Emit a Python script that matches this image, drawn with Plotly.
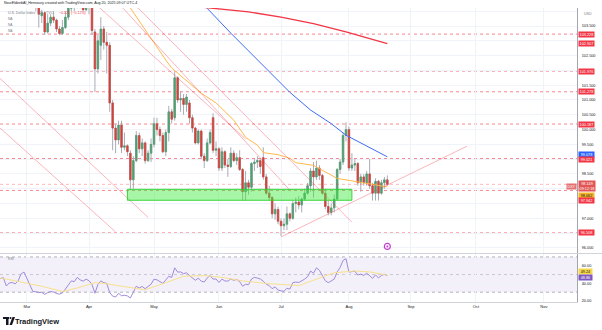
import pandas as pd
import plotly.graph_objects as go

# ---------------- data ----------------
dates = pd.bdate_range("2025-02-18", "2025-08-20")

opens = [106.8,107.1,107.2,106.4,106.6,106.6,106.3,106.4,107.2,
         107.5,106.7,105.7,104.3,104.15,103.85,103.95,103.3,103.6,103.8,103.7,103.4,103.25,103.45,103.8,104.1,104.3,104.2,104.6,104.3,104.05,
         104.2,104.2,103.3,102.05,102.85,103.4,102.95,102.85,100.9,100.05,99.65,100.15,99.4,99.45,99.2,98.3,98.95,99.8,99.35,99.55,98.95,99.2,
         99.5,100.2,100.0,99.8,99.25,99.9,100.6,100.4,101.75,101.0,101.05,100.85,100.9,100.4,100.05,99.55,99.95,99.1,98.95,99.55,100.4,99.3,
         99.35,98.7,99.25,98.8,98.75,99.2,98.95,99.05,98.65,97.9,98.2,98.05,98.85,98.9,98.95,99.05,98.4,97.85,97.7,97.15,97.3,
         96.9,96.75,96.8,97.15,97.0,97.5,97.55,97.45,97.65,97.85,98.1,98.6,98.4,98.7,98.45,97.85,97.4,97.2,97.35,97.65,98.65,98.9,99.8,
         100.0,98.7,98.8,98.85,98.2,98.4,98.2,98.5,98.1,97.85,98.25,97.85,98.2,98.3]
highs = [107.2,107.3,107.3,106.7,106.8,106.7,106.6,107.3,107.6,
         107.6,106.8,105.8,104.5,104.3,104.05,104.0,103.9,103.9,104.0,103.75,103.5,103.7,104.0,104.2,104.4,104.4,104.7,104.7,104.4,104.4,
         104.4,104.3,103.4,103.2,103.8,103.5,103.3,102.95,101.0,100.2,100.3,100.3,99.9,99.5,99.3,99.1,99.95,99.9,99.7,99.6,99.3,99.7,
         100.4,100.4,100.1,99.9,100.0,100.8,100.7,101.95,101.8,101.3,101.2,101.2,101.0,100.5,100.1,100.0,100.0,99.2,99.7,100.0,100.55,99.6,
         99.4,99.4,99.3,99.0,99.4,99.3,99.2,99.3,98.7,98.6,98.3,98.9,99.0,99.1,99.0,99.4,98.5,98.1,97.75,97.5,97.4,
         97.0,97.0,97.4,97.2,97.6,97.7,97.75,97.7,98.0,98.2,98.7,98.9,98.95,98.8,98.5,98.0,97.6,97.5,97.8,98.7,99.0,99.9,100.25,
         100.1,99.2,99.0,98.9,98.5,98.5,98.6,99.0,98.2,98.35,98.3,98.3,98.4,98.45]
lows = [106.7,106.9,106.4,106.1,106.3,106.1,106.1,106.3,107.1,
        106.6,105.6,104.2,104.0,103.45,103.6,103.2,103.25,103.5,103.6,103.3,103.2,103.2,103.4,103.7,104.0,104.0,104.1,104.1,104.0,104.0,
        103.9,103.2,101.27,101.9,102.35,102.7,101.9,100.6,99.3,99.2,99.5,99.2,99.3,99.1,97.95,98.0,98.9,99.2,99.1,98.85,98.9,98.9,
        99.4,99.8,99.6,99.2,99.1,99.6,100.2,100.3,100.9,100.6,100.5,100.6,100.2,99.9,99.5,99.5,99.0,98.7,98.9,99.5,99.2,99.1,
        98.6,98.6,98.7,98.4,98.7,98.9,98.8,98.6,97.6,97.6,97.8,97.9,98.6,98.7,98.5,98.3,97.8,97.6,97.0,96.95,96.8,
        96.4,96.6,96.6,96.9,96.95,97.2,97.3,97.2,97.6,97.8,97.9,97.7,98.3,98.3,97.8,97.3,97.1,97.1,97.2,97.6,98.5,98.8,99.6,
        98.6,98.6,98.6,98.1,97.9,98.1,98.1,98.0,97.6,97.6,97.6,97.8,98.0,98.1]
closes = [107.1,107.2,106.4,106.6,106.6,106.3,106.4,107.2,107.5,
          106.7,105.7,104.3,104.15,103.9,103.95,103.3,103.6,103.8,103.7,103.4,103.25,103.45,103.8,104.1,104.3,104.2,104.6,104.3,104.05,104.2,
          104.2,103.35,102.05,103.0,103.4,102.95,102.85,100.9,100.05,99.65,100.15,99.4,99.45,99.25,98.3,98.95,99.8,99.35,99.55,98.95,99.2,99.5,
          100.2,100.0,99.8,99.25,99.9,100.6,100.35,101.75,101.0,101.05,100.85,101.1,100.4,100.05,99.55,99.95,99.1,98.95,99.55,99.9,99.3,99.35,
          98.7,99.25,98.8,98.75,99.2,98.95,99.05,98.65,97.9,98.2,98.05,98.85,98.9,98.95,98.75,98.4,97.85,97.7,97.15,97.3,96.9,
          96.75,96.8,97.15,97.0,97.5,97.55,97.45,97.65,97.85,98.1,98.6,98.4,98.7,98.45,97.85,97.4,97.2,97.35,97.65,98.65,98.9,99.8,100.0,
          98.7,98.8,98.85,98.2,98.4,98.2,98.5,98.1,97.85,98.25,97.85,98.2,98.3,98.149]

rsi = [45.5,46.5,37,40.5,41,39.5,42.8,50.8,52.8,
       44.8,37,30.8,30.5,29.6,29.8,27.6,29.5,30.8,30.2,28.5,27.8,29.2,33.5,37.5,42.8,42,46.8,44,42.5,44.8,
       43,38.8,28.8,38.8,42.8,40.8,40,29.5,25.6,24.5,28.8,26,26.5,25.8,23.5,30,36.8,34.8,36.5,34,36.8,39,
       44.8,44,42,40,44,48,46.8,57.6,52.8,53,51,52,48.8,46.5,43.5,46,42.5,41.5,46,48.8,44.8,45,
       41,44.8,42.8,42.5,45,43.5,44.5,42,36.8,39,38.5,45,46.8,46,45,42.5,39,37.5,34,36,32.5,
       31.5,31,34.5,33.5,40.8,41.5,41,42.8,44.8,47.5,54,51.5,57.6,54.8,48,43,40.8,42.5,44.8,53,58,66,68,
       52.8,53.6,53.8,49.5,50.5,49,51.5,48.8,45.6,49.6,46.2,49,50.2,48.86]

rsi_ma_dates = ["2025-02-18","2025-02-19","2025-02-28","2025-03-10","2025-03-19","2025-03-26","2025-04-03",
                "2025-04-09","2025-04-16","2025-04-28","2025-05-07","2025-05-15","2025-05-26","2025-06-03",
                "2025-06-12","2025-06-25","2025-07-09","2025-07-18","2025-07-25","2025-08-05","2025-08-12",
                "2025-08-19","2025-08-20"]
rsi_ma_vals = [46.0,45.6,40.8,36.8,30.8,34.8,40.8,39.6,36.8,32.8,40.8,48.0,48.8,46.8,42.8,39.6,37.6,45.6,52.0,54.0,53.0,50.0,49.24]

sma50_dates = ["2025-04-14","2025-04-21","2025-05-07","2025-05-09","2025-05-23","2025-05-30","2025-06-09",
               "2025-06-13","2025-06-19","2025-06-23","2025-06-30","2025-07-04","2025-07-08","2025-07-16",
               "2025-07-28","2025-08-05","2025-08-20"]
sma50_vals = [104.8,104.11,102.35,102.08,101.23,100.9,100.32,99.74,99.47,99.22,99.15,99.03,98.88,98.79,98.35,98.25,98.062]

sma100_dates = ["2025-05-20","2025-05-27","2025-06-06","2025-06-25","2025-07-04","2025-07-15","2025-07-21",
                "2025-07-24","2025-07-31","2025-08-12","2025-08-20"]
sma100_vals = [104.65,104.1,103.26,101.94,101.26,100.66,100.38,100.2,99.81,99.4,99.078]

sma200_dates = ["2025-05-01","2025-05-29","2025-06-16","2025-07-01","2025-07-16","2025-07-31","2025-08-15","2025-08-20"]
sma200_vals = [104.3,104.10,103.98,103.8,103.58,103.3,103.0,102.907]

# drawn trend lines: (start date, start price, end date, end price)
trend_lines = [
    ("2025-02-14", 100.40, "2025-04-14", 96.54),
    ("2025-02-14", 102.09, "2025-04-29", 97.03),
    ("2025-03-24", 104.98, "2025-06-13", 99.68),
    ("2025-04-01", 105.36, "2025-07-04", 97.95),
    ("2025-04-07", 105.37, "2025-08-04", 96.87),
    ("2025-07-01", 96.37, "2025-09-26", 99.44),
]
zone = ("2025-04-18", 97.61, "2025-08-04", 97.98)
levels = [103.228, 101.976, 101.278, 100.187, 99.021, 97.942, 96.508]
last_price = 98.149

month_ticks_start = "2025-03-01"
price_ticks = [96.0,96.5,97.0,97.5,98.0,98.5,99.0,99.5,100.0,100.5,101.0,101.5,102.0,102.5,103.0,103.5,104.0]
price_tick_text = ["96.000","","97.000","","","98.500","","99.500","100.000","100.500","101.000","101.500","","102.500","","103.500",""]
rsi_ticks = [20, 40, 60]
rsi_tick_text = ["20.00", "40.00", "60.00"]

# ---------------- style ----------------
UP = "#4FA070"
DN = "#D2433B"
WICK = "#A9ACB4"
RED = "#F23645"
LINE_RED = "rgba(242,54,69,0.36)"
LEVEL = "rgba(242,54,69,0.6)"
GRID = "#F0F3FA"
AX = "#A3A6AE"
FONT = "Arial"

PW, TOP, BOT = 577.0, 8.0, 302.0
def xp(px): return px / PW
def yp(py): return (BOT - py) / (BOT - TOP)

fig = go.Figure()

# wicks
fig.add_trace(go.Candlestick(
    x=dates, open=opens, high=highs, low=lows, close=closes,
    increasing=dict(line=dict(color=WICK, width=1), fillcolor=WICK),
    decreasing=dict(line=dict(color=WICK, width=1), fillcolor=WICK),
    whiskerwidth=0, hoverinfo="skip", showlegend=False, xaxis="x", yaxis="y"))
# bodies
b_hi = [max(o, c) for o, c in zip(opens, closes)]
b_lo = [min(o, c) for o, c in zip(opens, closes)]
fig.add_trace(go.Candlestick(
    x=dates, open=opens, high=b_hi, low=b_lo, close=closes,
    increasing=dict(line=dict(color=UP, width=0.6), fillcolor=UP),
    decreasing=dict(line=dict(color=DN, width=0.6), fillcolor=DN),
    whiskerwidth=0, hoverinfo="skip", showlegend=False, xaxis="x", yaxis="y"))

# moving averages
fig.add_trace(go.Scatter(x=sma50_dates, y=sma50_vals, mode="lines", line=dict(color="#FFB84A", width=1),
                         showlegend=False, hoverinfo="skip", xaxis="x", yaxis="y"))
fig.add_trace(go.Scatter(x=sma100_dates, y=sma100_vals, mode="lines", line=dict(color="#3D6CF5", width=1),
                         showlegend=False, hoverinfo="skip", xaxis="x", yaxis="y"))
fig.add_trace(go.Scatter(x=sma200_dates, y=sma200_vals, mode="lines", line=dict(color=RED, width=1.3),
                         showlegend=False, hoverinfo="skip", xaxis="x", yaxis="y"))

# trend lines
for d0, p0, d1, p1 in trend_lines:
    fig.add_trace(go.Scatter(x=[d0, d1], y=[p0, p1], mode="lines", line=dict(color=LINE_RED, width=1),
                             showlegend=False, hoverinfo="skip", xaxis="x", yaxis="y"))

# event marker
fig.add_trace(go.Scatter(x=["2025-08-20"], y=[96.05], mode="markers",
                         marker=dict(symbol="circle-open", size=6, color="#C23FD0", line=dict(width=1.2)),
                         showlegend=False, hoverinfo="skip", xaxis="x", yaxis="y"))
fig.add_trace(go.Scatter(x=["2025-08-20"], y=[96.05], mode="markers",
                         marker=dict(symbol="circle", size=2, color="#C23FD0"),
                         showlegend=False, hoverinfo="skip", xaxis="x", yaxis="y"))

# RSI
fig.add_trace(go.Scatter(x=dates, y=rsi, mode="lines", line=dict(color="#A18BDB", width=1),
                         showlegend=False, hoverinfo="skip", xaxis="x2", yaxis="y2"))
fig.add_trace(go.Scatter(x=rsi_ma_dates, y=rsi_ma_vals, mode="lines", line=dict(color="#F8E08E", width=1),
                         showlegend=False, hoverinfo="skip", xaxis="x2", yaxis="y2"))

shapes = []
# zone
shapes.append(dict(type="rect", xref="x", yref="y", x0=zone[0], x1=zone[2], y0=zone[1], y1=zone[3],
                   fillcolor="rgba(60,235,60,0.45)", line=dict(color="rgba(40,210,40,0.9)", width=1), layer="above"))
# horizontal levels
for lv in levels:
    shapes.append(dict(type="line", xref="paper", yref="y", x0=0, x1=1, y0=lv, y1=lv,
                       line=dict(color=LEVEL, width=1, dash="dot"), layer="below"))
shapes.append(dict(type="line", xref="paper", yref="y", x0=0, x1=1, y0=last_price, y1=last_price,
                   line=dict(color="rgba(242,54,69,0.35)", width=1, dash="dot")))
# RSI band and guides
shapes.append(dict(type="rect", xref="paper", yref="y2", x0=0, x1=1, y0=30, y1=70,
                   fillcolor="rgba(126,87,194,0.09)", line=dict(width=0), layer="below"))
for lv, op in [(70, 0.55), (50, 0.35), (30, 0.55)]:
    shapes.append(dict(type="line", xref="paper", yref="y2", x0=0, x1=1, y0=lv, y1=lv,
                       line=dict(color=f"rgba(120,123,134,{op})", width=1, dash="dot"), layer="below"))
# pane separator
shapes.append(dict(type="line", xref="paper", yref="paper", x0=0, x1=602/PW, y0=yp(253.5), y1=yp(253.5),
                   line=dict(color="#D1D4DC", width=1)))
# TradingView logo glyph
shapes.append(dict(type="rect", xref="paper", yref="paper", x0=xp(3), x1=xp(9), y0=yp(319), y1=yp(317),
                   fillcolor="#131722", line=dict(width=0)))
shapes.append(dict(type="rect", xref="paper", yref="paper", x0=xp(6), x1=xp(8.5), y0=yp(325), y1=yp(317),
                   fillcolor="#131722", line=dict(width=0)))
shapes.append(dict(type="circle", xref="paper", yref="paper", x0=xp(9.5), x1=xp(11.5), y0=yp(319), y1=yp(317),
                   fillcolor="#131722", line=dict(width=0)))
shapes.append(dict(type="path", xref="paper", yref="paper",
                   path=f"M {xp(12.5)},{yp(317)} L {xp(15)},{yp(317)} L {xp(12)},{yp(325)} L {xp(9.5)},{yp(325)} Z",
                   fillcolor="#131722", line=dict(width=0)))

ann = []
def txt(x, y, s, size=3.6, color="#131722", anchor="left"):
    ann.append(dict(x=xp(x), y=yp(y), xref="paper", yref="paper", text=s, showarrow=False,
                    xanchor=anchor, yanchor="middle", font=dict(family=FONT, size=size, color=color)))

txt(2, 3.5, "NourEldeebAl_Hennoury created with TradingView.com, Aug 20, 2025 09:07 UTC-4", 3.6, "#131722")
txt(6, 13.5, "U.S. Dollar Index · 1D · TVC", 3.6, "#787B86")
txt(57, 13.5, "−0.121 (−0.12%)", 3.6, RED)
txt(6, 19.5, "NA", 3.2, "#787B86")
txt(6, 25, "NA", 3.2, "#787B86")
txt(6, 30.5, "NA", 3.2, "#787B86")
txt(6, 259, "RSI", 3.4, "#787B86")
txt(13, 321, "<b>TradingView</b>", 7.5, "#131722")
txt(582, 14, "USD", 3.6, "#787B86")

def plabel(price, text, bg, fg="white", yshift=0, yref="y"):
    ann.append(dict(x=1, y=price, xref="paper", yref=yref, text=text, showarrow=False, xanchor="left",
                    yanchor="middle", xshift=0.5, yshift=yshift, bgcolor=bg, borderpad=0.6,
                    font=dict(family=FONT, size=3.8, color=fg)))

plabel(103.228, "103.228", RED)
plabel(102.907, "102.907", RED)
plabel(101.976, "101.976", RED)
plabel(101.278, "101.278", RED)
plabel(100.187, "100.187", RED)
plabel(99.078, "&nbsp;99.078&nbsp;", "#2962FF", yshift=2)
plabel(99.021, "&nbsp;99.021&nbsp;", RED, yshift=-1)
plabel(last_price, "&nbsp;98.149&nbsp;<br>09:12:18", "rgba(224,70,70,0.92)", yshift=-2)
plabel(98.062, "&nbsp;98.062&nbsp;", "#F5B52A", fg="#131722", yshift=-8.5)
plabel(97.942, "&nbsp;97.942&nbsp;", RED, yshift=-10)
plabel(96.508, "&nbsp;96.508&nbsp;", RED)
plabel(49.24, "&nbsp;49.24&nbsp;", "#F7D74A", fg="#131722", yshift=4, yref="y2")
plabel(48.86, "&nbsp;48.86&nbsp;", "#7E57C2", yshift=-1.5, yref="y2")
ann.append(dict(x=1, y=last_price, xref="paper", yref="y", text="DXY", showarrow=False, xanchor="right",
                yanchor="middle", yshift=-2, bgcolor="rgba(224,90,90,0.85)", borderpad=0.6,
                font=dict(family=FONT, size=3.6, color="white")))

rb = [dict(bounds=["sat", "mon"])]
x_range = ["2025-02-17 20:40", "2025-11-18 05:00"]

fig.update_layout(
    width=602, height=330,
    margin=dict(l=0, r=25, t=8, b=28),
    paper_bgcolor="white", plot_bgcolor="white",
    showlegend=False,
    shapes=shapes, annotations=ann,
    font=dict(family=FONT, size=4, color="#131722"),
    xaxis=dict(domain=[0, 1], anchor="y", range=x_range, rangebreaks=rb, type="date",
               showticklabels=False, showgrid=True, gridcolor=GRID, gridwidth=1,
               dtick="M1", tick0=month_ticks_start, zeroline=False, showline=False,
               rangeslider=dict(visible=False), fixedrange=True),
    xaxis2=dict(domain=[0, 1], anchor="y2", matches="x", range=x_range, rangebreaks=rb, type="date",
                showticklabels=True, tickformat="%b", dtick="M1", tick0=month_ticks_start,
                tickfont=dict(family=FONT, size=4, color="#131722"), ticks="",
                showgrid=True, gridcolor=GRID, zeroline=False,
                showline=True, linecolor="#D1D4DC", linewidth=1,
                rangeslider=dict(visible=False)),
    yaxis=dict(domain=[yp(253.5), 1], anchor="x", side="right", range=[95.81, 104.11],
               tickvals=price_ticks, ticktext=price_tick_text, ticks="",
               tickfont=dict(family=FONT, size=3.8, color="#131722"),
               showgrid=True, gridcolor=GRID, zeroline=False,
               showline=True, linecolor=AX, linewidth=1, ticklabelstandoff=3),
    yaxis2=dict(domain=[0, yp(254)], anchor="x2", side="right", range=[18.9, 73.3],
                tickvals=rsi_ticks, ticktext=rsi_tick_text, ticks="",
                tickfont=dict(family=FONT, size=3.8, color="#131722"),
                showgrid=True, gridcolor=GRID, zeroline=False,
                showline=True, linecolor=AX, linewidth=1, ticklabelstandoff=3),
)

fig.write_html("out.html")
